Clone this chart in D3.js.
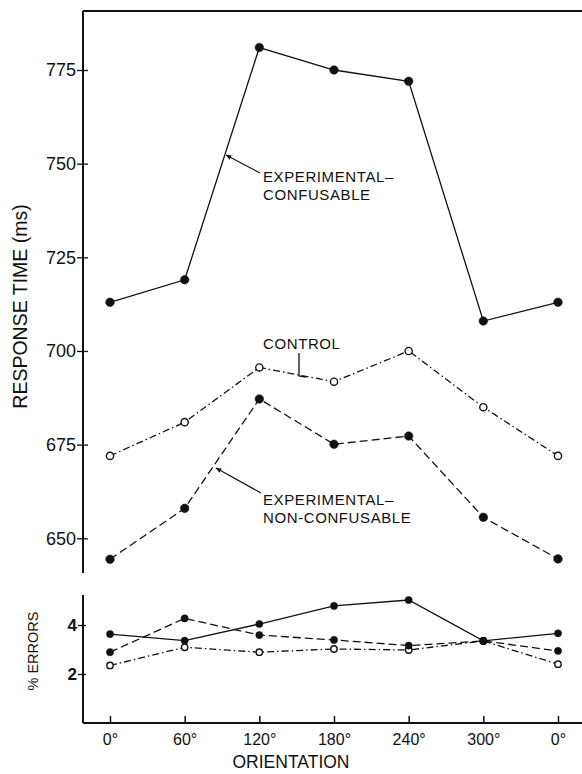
<!DOCTYPE html>
<html>
<head>
<meta charset="utf-8">
<script src="https://cdn.jsdelivr.net/npm/d3@7"></script>
<style>
  html, body { margin: 0; padding: 0; background: #fff; }
  svg { display: block; }
  text { font-family: "Liberation Sans", Arial, Helvetica, sans-serif; fill: #111; }
</style>
</head>
<body>
<svg id="chart" width="582" height="774"></svg>
<script>
// ---- data ----
const orientations = ["0°", "60°", "120°", "180°", "240°", "300°", "0°"];
const rtConfusable    = [713, 719, 781, 775, 772, 708, 713];
const rtControl       = [672, 681, 695.6, 691.8, 700, 685, 672];
const rtNonConfusable = [644.4, 658, 687.2, 675.1, 677.3, 655.6, 644.5];
const errConfusable    = [3.63, 3.36, 4.04, 4.78, 5.02, 3.35, 3.66];
const errNonConfusable = [2.89, 4.27, 3.59, 3.39, 3.16, 3.35, 2.94];
const errControl       = [2.35, 3.09, 2.89, 3.02, 2.98, 3.35, 2.40];
const rtTicks  = [650, 675, 700, 725, 750, 775];
const errTicks = [2, 4];

const svg = d3.select("#chart");
const ink = "#111";

// ---- scales ----
const x = d3.scaleLinear().domain([0, orientations.length - 1]).range([110, 558]);
const yTop = d3.scaleLinear().domain([650, 775]).range([538.3, 70]);
const yBot = d3.scaleLinear().domain([0, 4]).range([723, 625]);

const axisX = 83;

// ---- top panel axes ----
svg.append("line").attr("x1", axisX).attr("x2", axisX).attr("y1", 11).attr("y2", 573)
  .attr("stroke", ink).attr("stroke-width", 2);
svg.append("line").attr("x1", axisX).attr("x2", 582).attr("y1", 11).attr("y2", 11)
  .attr("stroke", ink).attr("stroke-width", 2);

const gTop = svg.append("g").attr("transform", `translate(${axisX},0)`)
  .call(d3.axisLeft(yTop).tickValues(rtTicks).tickSize(6).tickPadding(1).tickFormat(d3.format("d")));
gTop.select(".domain").remove();
gTop.selectAll(".tick line").attr("stroke", ink).attr("stroke-width", 1.3);
gTop.selectAll(".tick text").attr("font-size", 18).attr("fill", ink)
  .style("font-family", '"Liberation Sans", Arial, sans-serif');
const gTopIn = svg.append("g").attr("transform", `translate(${axisX},0)`)
  .call(d3.axisRight(yTop).tickValues(rtTicks).tickSize(5).tickFormat(""));
gTopIn.select(".domain").remove();
gTopIn.selectAll(".tick line").attr("stroke", ink).attr("stroke-width", 1.3);

// ---- bottom panel axes ----
svg.append("line").attr("x1", axisX).attr("x2", axisX).attr("y1", 595).attr("y2", 723)
  .attr("stroke", ink).attr("stroke-width", 2);
svg.append("line").attr("x1", axisX).attr("x2", 582).attr("y1", 723).attr("y2", 723)
  .attr("stroke", ink).attr("stroke-width", 2);

const gBot = svg.append("g").attr("transform", `translate(${axisX},0)`)
  .call(d3.axisLeft(yBot).tickValues(errTicks).tickSize(5).tickPadding(1).tickFormat(d3.format("d")));
gBot.select(".domain").remove();
gBot.selectAll(".tick line").attr("stroke", ink).attr("stroke-width", 1.3);
gBot.selectAll(".tick text").attr("font-size", 17).attr("font-weight", "bold").attr("fill", ink)
  .style("font-family", '"Liberation Sans", Arial, sans-serif');
const gBotIn = svg.append("g").attr("transform", `translate(${axisX},0)`)
  .call(d3.axisRight(yBot).tickValues(errTicks).tickSize(3).tickFormat(""));
gBotIn.select(".domain").remove();
gBotIn.selectAll(".tick line").attr("stroke", ink).attr("stroke-width", 1.3);

// x axis: ticks pointing inward (up), labels below
const gX = svg.append("g").attr("transform", "translate(0,723)")
  .call(d3.axisBottom(x).tickValues(d3.range(orientations.length)).tickSize(-7).tickPadding(0)
    .tickFormat(i => orientations[i]));
gX.select(".domain").remove();
gX.selectAll(".tick line").attr("stroke", ink).attr("stroke-width", 1.5);
gX.selectAll(".tick text").attr("font-size", 16).attr("fill", ink).attr("y", 22).attr("dy", 0)
  .style("font-family", '"Liberation Sans", Arial, sans-serif');

// ---- axis titles ----
svg.append("text").attr("transform", "translate(27,306.5) rotate(-90)")
  .attr("text-anchor", "middle").attr("font-size", 19.5).text("RESPONSE TIME (ms)");
svg.append("text").attr("transform", "translate(38,651) rotate(-90)")
  .attr("text-anchor", "middle").attr("font-size", 14.5).text("% ERRORS");
svg.append("text").attr("x", 291).attr("y", 768)
  .attr("text-anchor", "middle").attr("font-size", 17.5).text("ORIENTATION");

// ---- series ----
function drawSeries(values, yScale, dash, filled, r, rOpen) {
  const line = d3.line().x((d, i) => x(i)).y(d => yScale(d));
  svg.append("path").datum(values).attr("d", line)
    .attr("fill", "none").attr("stroke", ink).attr("stroke-width", 1.3)
    .attr("stroke-dasharray", dash);
  svg.append("g").selectAll("circle").data(values).join("circle")
    .attr("cx", (d, i) => x(i)).attr("cy", d => yScale(d))
    .attr("r", filled ? r : rOpen)
    .attr("fill", filled ? ink : "#fff")
    .attr("stroke", ink).attr("stroke-width", filled ? 0.5 : 1.4);
}
const DASH = "8,4";
const DASHDOT = "7,3,1.5,3";

// top panel
drawSeries(rtControl, yTop, DASHDOT, false, 4, 3.6);
drawSeries(rtNonConfusable, yTop, DASH, true, 4.3, 3.6);
drawSeries(rtConfusable, yTop, null, true, 4.3, 3.6);

// bottom panel
drawSeries(errControl, yBot, DASHDOT, false, 3.5, 3.2);
drawSeries(errNonConfusable, yBot, DASH, true, 3.6, 3.2);
drawSeries(errConfusable, yBot, null, true, 3.6, 3.2);

// ---- annotations ----
const defs = svg.append("defs");
defs.append("marker").attr("id", "arr").attr("viewBox", "0 0 10 10")
  .attr("refX", 9).attr("refY", 5).attr("markerWidth", 5).attr("markerHeight", 5)
  .attr("orient", "auto")
  .append("path").attr("d", "M0,1 L10,5 L0,9 z").attr("fill", ink);

function label(lines, xPos, yPos) {
  const t = svg.append("text").attr("x", xPos).attr("y", yPos)
    .attr("font-size", 15).attr("letter-spacing", 0.6);
  lines.forEach((s, i) => t.append("tspan").attr("x", xPos).attr("dy", i === 0 ? 0 : 17.8).text(s));
}
label(["EXPERIMENTAL–", "CONFUSABLE"], 263, 182);
svg.append("line").attr("x1", 260).attr("y1", 173).attr("x2", 226).attr("y2", 155)
  .attr("stroke", ink).attr("stroke-width", 1.2).attr("marker-end", "url(#arr)");

label(["CONTROL"], 263, 349);
svg.append("path").attr("d", "M299,353 V376 L306,377")
  .attr("fill", "none").attr("stroke", ink).attr("stroke-width", 1.3);

label(["EXPERIMENTAL–", "NON-CONFUSABLE"], 263, 505);
svg.append("line").attr("x1", 261).attr("y1", 493).attr("x2", 216).attr("y2", 468)
  .attr("stroke", ink).attr("stroke-width", 1.2).attr("marker-end", "url(#arr)");
</script>
</body>
</html>
